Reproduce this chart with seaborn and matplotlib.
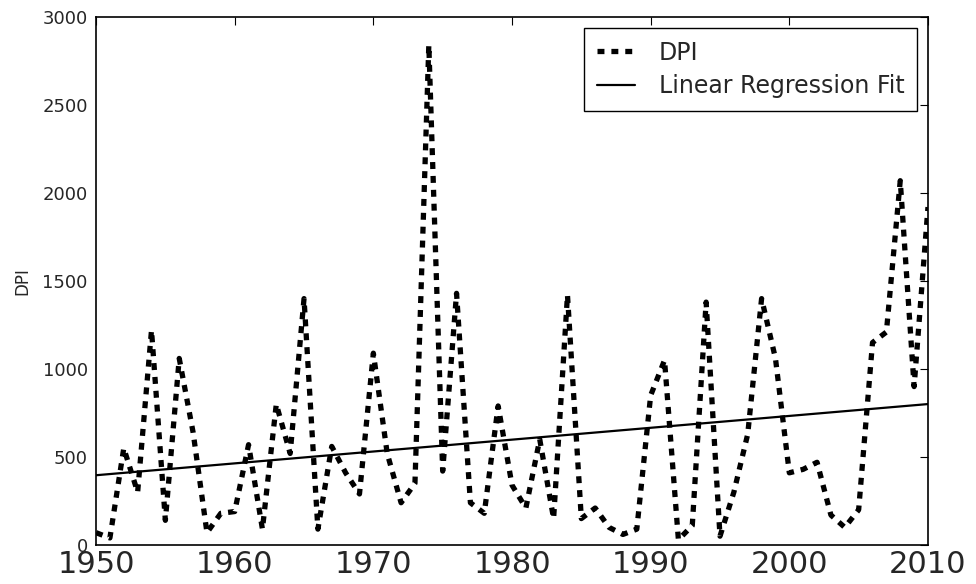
import numpy as np
import pandas as pd
import matplotlib
matplotlib.use("Agg")
import matplotlib.pyplot as plt
import seaborn as sns

# --------------------------
# Datos
# --------------------------
anios = list(range(1950, 2011))
dpi = [
    70, 40, 550, 300, 1220, 140, 1060, 640, 70, 180,      # 1950-1959
    190, 570, 90, 800, 520, 1400, 90, 560, 410, 290,      # 1960-1969
    1090, 520, 240, 350, 2840, 420, 1430, 240, 180, 790,  # 1970-1979
    340, 210, 600, 150, 1420, 150, 210, 100, 60, 90,      # 1980-1989
    850, 1050, 30, 110, 1380, 50, 300, 630, 1400, 1060,   # 1990-1999
    410, 430, 470, 170, 100, 200, 1150, 1210, 2070, 900,  # 2000-2009
    1920,                                                 # 2010
]
x_ticks = [1950, 1960, 1970, 1980, 1990, 2000, 2010]
y_ticks = [0, 500, 1000, 1500, 2000, 2500, 3000]

df = pd.DataFrame({"anio": anios, "DPI": dpi})

# --------------------------
# Estilo
# --------------------------
sns.set_theme(style="white")
plt.rcParams["font.family"] = ["DejaVu Sans"]
plt.rcParams["lines.scale_dashes"] = False
plt.rcParams["lines.dashed_pattern"] = [5.0, 5.0]

fig, ax = plt.subplots(figsize=(9.76, 5.84), dpi=100)
fig.subplots_adjust(left=0.0984, right=0.9508, top=0.9709, bottom=0.0668)

# --------------------------
# Serie y ajuste lineal
# --------------------------
sns.lineplot(data=df, x="anio", y="DPI", ax=ax, color="black",
             linewidth=3.8, linestyle="--", label="DPI")
sns.regplot(data=df, x="anio", y="DPI", ax=ax, scatter=False, ci=None,
            label="Linear Regression Fit",
            line_kws=dict(color="black", linewidth=1.6))

ax.set_xlim(1950, 2010)
ax.set_ylim(0, 3000)
ax.set_xticks(x_ticks)
ax.set_yticks(y_ticks)
ax.set_xlabel("")
ax.set_ylabel("DPI", fontsize=12, labelpad=8)

ax.tick_params(axis="x", labelsize=22, direction="in", top=True,
               length=5.5, width=0.8, color="black", pad=3.5)
ax.tick_params(axis="y", labelsize=13, direction="in", right=True,
               length=5.5, width=0.8, color="black", pad=6)
for s in ax.spines.values():
    s.set_color("black")
    s.set_linewidth(1.2)

leg = ax.legend(loc="upper right", fontsize=17, frameon=True, fancybox=False,
                framealpha=1, edgecolor="black", handlelength=1.6,
                handletextpad=1.0, labelspacing=0.4, borderpad=0.55,
                borderaxespad=0.45)
leg.get_frame().set_linewidth(1.0)

fig.savefig("out.png", dpi=100)
